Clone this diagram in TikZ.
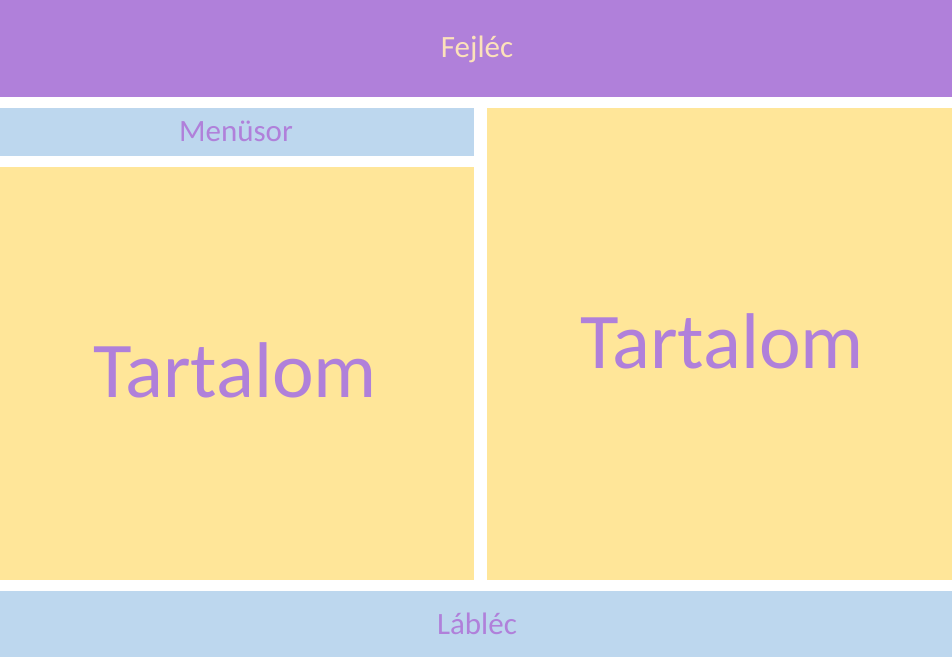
\documentclass[tikz,border=0pt]{standalone}
\usepackage{fontspec}
\setmainfont{Carlito}
\definecolor{hdr}{RGB}{176,128,218}
\definecolor{lblue}{RGB}{189,215,238}
\definecolor{lyel}{RGB}{255,230,153}
\definecolor{ptext}{RGB}{176,128,218}
\definecolor{peach}{RGB}{252,226,186}
\begin{document}
\begin{tikzpicture}[x=1pt,y=-1pt,
  lbl/.style={text=ptext,font=\fontsize{31}{31}\selectfont,anchor=base,inner sep=0pt},
  big/.style={text=ptext,font=\fontsize{79}{79}\selectfont,anchor=base,inner sep=0pt}]
\fill[white] (0,0) rectangle (952,657);
\useasboundingbox (0,0) rectangle (952,657);
\fill[hdr] (0,0) rectangle (952,97);
\fill[lblue] (0,108) rectangle (474,156);
\fill[lyel] (0,167) rectangle (474,580);
\fill[lyel] (487,108) rectangle (952,580);
\fill[lblue] (0,591) rectangle (952,657);
\node[lbl,text=peach] (fej) at (477,57) {Fejléc};
\node[lbl] (menu) at (236,141) {Menüsor};
\node[big] (t1) at (235,397) {Tartalom};
\node[big] (t2) at (722,368) {Tartalom};
\node[lbl] (lab) at (477,634) {Lábléc};
\end{tikzpicture}
\end{document}
